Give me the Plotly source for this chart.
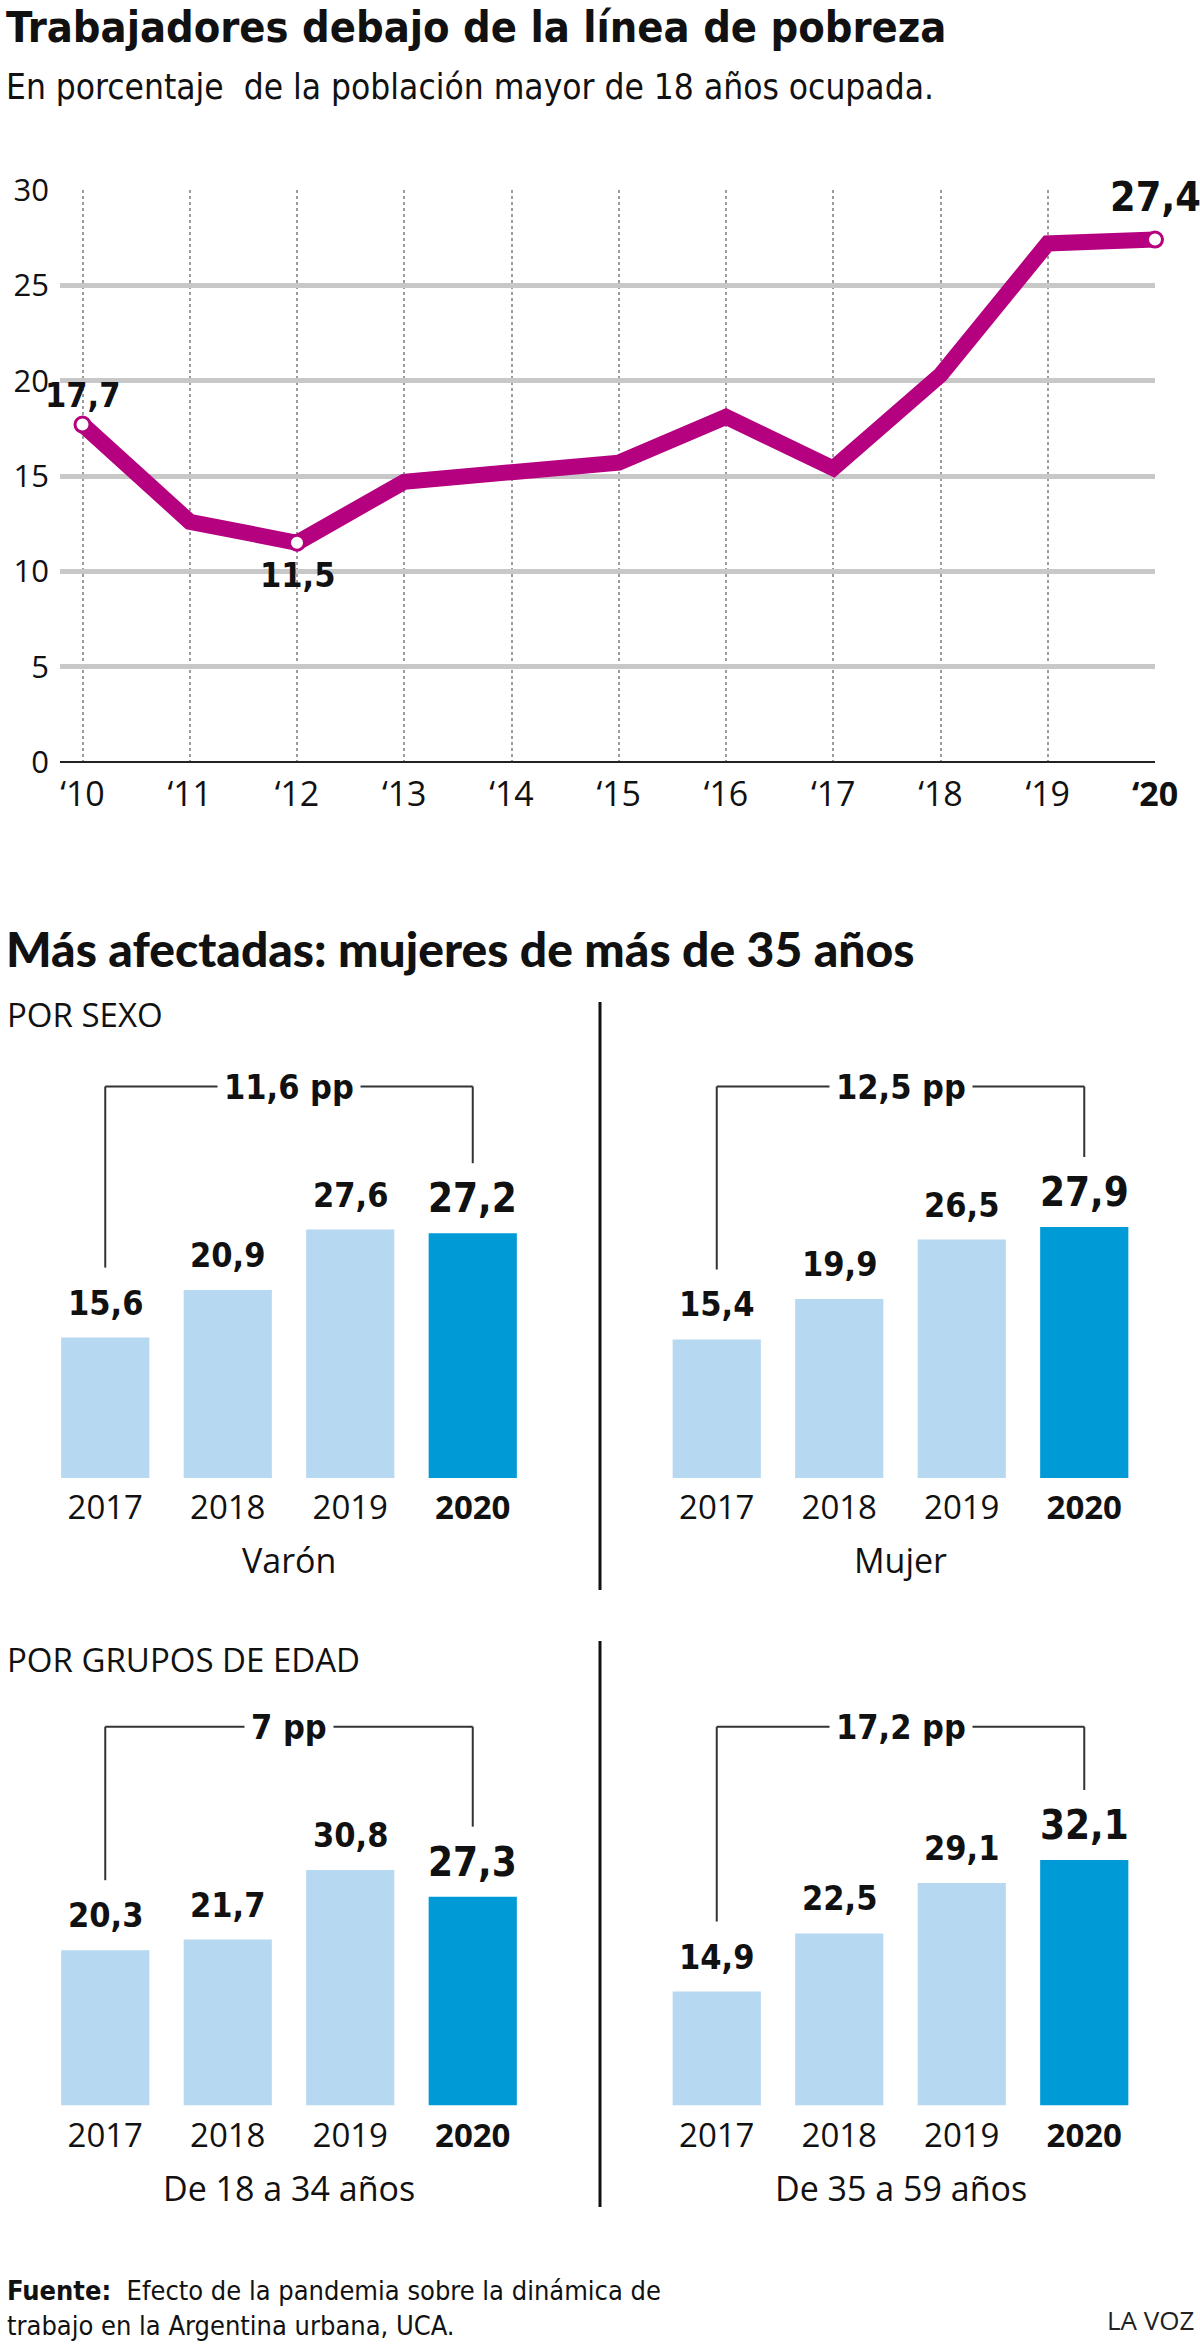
import plotly.graph_objects as go

# ---------------- DATA ----------------
line_years = [2010, 2011, 2012, 2013, 2014, 2015, 2016, 2017, 2018, 2019, 2020]
line_tick_text = ["‘10", "‘11", "‘12", "‘13", "‘14", "‘15", "‘16", "‘17", "‘18", "‘19", "<b>‘20</b>"]
poverty_pct = [17.7, 12.6, 11.5, 14.7, 15.2, 15.7, 18.1, 15.4, 20.3, 27.2, 27.4]
labeled_idx = [0, 2, 10]

bar_years = ["2017", "2018", "2019", "2020"]
bar_tick_text = ["2017", "2018", "2019", "<b>2020</b>"]
varon = [15.6, 20.9, 27.6, 27.2]
mujer = [15.4, 19.9, 26.5, 27.9]
edad_18_34 = [20.3, 21.7, 30.8, 27.3]
edad_35_59 = [14.9, 22.5, 29.1, 32.1]
panel_names = ["Varón", "Mujer", "De 18 a 34 años", "De 35 a 59 años"]

# ---------------- STYLE ----------------
W, H = 1200, 2352
MAGENTA = "#B5007F"
LIGHT = "#B7D8F1"
DARK = "#009BD7"
TXT = "#111111"
NARROW = "DejaVu Sans Condensed, Roboto, sans-serif"
SANS = "Open Sans"


def py(px):
    return 1 - px / H


def pxx(px):
    return px / W


def fmt(v):
    if abs(v - round(v)) < 1e-9:
        return f"{int(round(v))}"
    return f"{v:.1f}".replace(".", ",")


fig = go.Figure()

# ---------------- LINE CHART ----------------
fig.add_trace(go.Scatter(
    x=line_years, y=poverty_pct, mode="lines",
    line=dict(color=MAGENTA, width=16), cliponaxis=False,
    hoverinfo="skip", showlegend=False, xaxis="x", yaxis="y"))
fig.add_trace(go.Scatter(
    x=[line_years[i] for i in labeled_idx], y=[poverty_pct[i] for i in labeled_idx],
    mode="markers", cliponaxis=False,
    marker=dict(size=15, color="white", line=dict(color=MAGENTA, width=3)),
    hoverinfo="skip", showlegend=False, xaxis="x", yaxis="y"))

x_left_px, x_right_px = 60, 1155
year_px = (1155 - 82.5) / 10
fig.update_layout(
    xaxis=dict(domain=[pxx(x_left_px), pxx(x_right_px)],
               range=[line_years[0] - (82.5 - x_left_px) / year_px, line_years[-1]],
               tickvals=line_years, ticktext=line_tick_text,
               showgrid=True, gridcolor="#9c9c9c", gridwidth=2, griddash="dot",
               zeroline=False, showline=False, ticks="", automargin=False,
               tickfont=dict(family=SANS, size=34, color=TXT),
               ticklabelstandoff=9, anchor="y", fixedrange=True),
    yaxis=dict(domain=[py(762), py(190)], range=[0, 30],
               tickvals=[0, 5, 10, 15, 20, 25, 30],
               showgrid=True, gridcolor="#c8c8c8", gridwidth=5,
               zeroline=True, zerolinecolor="#222", zerolinewidth=2,
               showline=False, ticks="", automargin=False,
               tickfont=dict(family=SANS, size=31, color=TXT),
               ticklabelstandoff=10, anchor="x", fixedrange=True),
)

annotations = []
shapes = []
line_label_style = {0: (30, 34, None), 2: (-32, 34, None), 10: (43, 41, "white")}
for i in labeled_idx:
    ys, fs, bg = line_label_style[i]
    annotations.append(dict(
        x=line_years[i], y=poverty_pct[i], xref="x", yref="y",
        text=f"<b>{fmt(poverty_pct[i])}</b>", showarrow=False,
        yshift=ys, yanchor="middle", xanchor="center",
        bgcolor=bg if bg else "rgba(0,0,0,0)",
        font=dict(family=NARROW, size=fs, color=TXT)))

# ---------------- BAR PANELS ----------------
panels = [varon, mujer, edad_18_34, edad_35_59]
col_dom = [(44, 534), (655.5, 1145.5)]
# (bottom px, top px, y max, bracket top value)
rows = [(1478, 1028, 50, 43.5), (2105.5, 1677.1, 56, 49.5)]
pos = list(range(len(bar_years)))

for k, vals in enumerate(panels):
    r, c = divmod(k, 2)
    n = k + 2
    xa, ya = f"x{n}", f"y{n}"
    x0, x1 = col_dom[c]
    bot, top, ymax, btop = rows[r]
    colors = [DARK if y == bar_years[-1] else LIGHT for y in bar_years]
    fig.add_trace(go.Bar(x=pos, y=vals, width=0.72,
                         marker=dict(color=colors, line=dict(width=0)),
                         hoverinfo="skip", showlegend=False, xaxis=xa, yaxis=ya))
    fig.update_layout(**{
        f"xaxis{n}": dict(
            domain=[pxx(x0), pxx(x1)], anchor=ya, range=[-0.5, len(pos) - 0.5],
            tickvals=pos, ticktext=bar_tick_text, ticks="", showgrid=False,
            zeroline=False, showline=False, ticklabelstandoff=7, automargin=False,
            tickfont=dict(family=SANS, size=33, color=TXT), fixedrange=True),
        f"yaxis{n}": dict(
            domain=[py(bot), py(top)], anchor=xa, range=[0, ymax],
            visible=False, automargin=False, fixedrange=True),
    })
    px_per_unit = (bot - top) / ymax
    for j, v in enumerate(vals):
        last = j == len(vals) - 1
        annotations.append(dict(
            x=pos[j], y=v, xref=xa, yref=ya, text=f"<b>{fmt(v)}</b>", showarrow=False,
            yshift=35, yanchor="middle",
            font=dict(family=NARROW, size=40 if last else 34, color=TXT)))
    gap = 70 / px_per_unit
    bcol = "#333333"
    shapes.append(dict(type="line", xref=xa, yref=ya, x0=pos[0], x1=pos[0],
                       y0=vals[0] + gap, y1=btop, line=dict(color=bcol, width=2)))
    shapes.append(dict(type="line", xref=xa, yref=ya, x0=pos[0], x1=pos[-1],
                       y0=btop, y1=btop, line=dict(color=bcol, width=2)))
    shapes.append(dict(type="line", xref=xa, yref=ya, x0=pos[-1], x1=pos[-1],
                       y0=vals[-1] + gap, y1=btop, line=dict(color=bcol, width=2)))
    diff = round(vals[-1] - vals[0], 1)
    annotations.append(dict(
        x=(pos[0] + pos[-1]) / 2, y=btop, xref=xa, yref=ya, text=f"<b>{fmt(diff)} pp</b>",
        showarrow=False, bgcolor="white", borderpad=6, yanchor="middle",
        font=dict(family=NARROW, size=34, color=TXT)))
    annotations.append(dict(
        x=(pos[0] + pos[-1]) / 2, y=py(bot + 82), xref=xa, yref="paper", text=panel_names[k],
        showarrow=False, yanchor="middle",
        font=dict(family=SANS, size=34, color=TXT)))

# dividers
shapes.append(dict(type="line", xref="paper", yref="paper", x0=0.5, x1=0.5,
                   y0=py(1002), y1=py(1590), line=dict(color="#111", width=3)))
shapes.append(dict(type="line", xref="paper", yref="paper", x0=0.5, x1=0.5,
                   y0=py(1641), y1=py(2207), line=dict(color="#111", width=3)))


# ---------------- TEXTS ----------------
def ptext(text, x, y, size, family, xanchor="left", color=TXT, weight=None):
    f = dict(family=family, size=size, color=color)
    if weight:
        f["weight"] = weight
    annotations.append(dict(text=text, x=x, y=y, xref="paper", yref="paper",
                            showarrow=False, xanchor=xanchor, yanchor="middle", align="left",
                            font=f))


ptext("<b>Trabajadores debajo de la línea de pobreza</b>", pxx(4), py(27), 43, NARROW)
ptext("En porcentaje  de la población mayor de 18 años ocupada.", pxx(4), py(87), 35, NARROW)
ptext("Más afectadas: mujeres de más de 35 años", pxx(4), py(948), 48, "Lato", weight=900)
ptext("POR SEXO", pxx(5), py(1014), 33, SANS)
ptext("POR GRUPOS DE EDAD", pxx(5), py(1660), 33, SANS)
ptext("<b>Fuente:</b>  Efecto de la pandemia sobre la dinámica de<br>"
      "trabajo en la Argentina urbana, UCA.", pxx(5), py(2308), 27, NARROW)
ptext("LA VOZ", pxx(1196), py(2320), 26, SANS, xanchor="right", color="#222")

fig.update_layout(
    width=W, height=H, margin=dict(l=0, r=0, t=0, b=0, pad=0, autoexpand=False),
    paper_bgcolor="white", plot_bgcolor="white",
    annotations=annotations, shapes=shapes,
    font=dict(family=SANS, color=TXT),
)

fig.write_html(
    "out.html",
    post_script="document.body.style.margin='0';document.body.style.padding='0';",
)
